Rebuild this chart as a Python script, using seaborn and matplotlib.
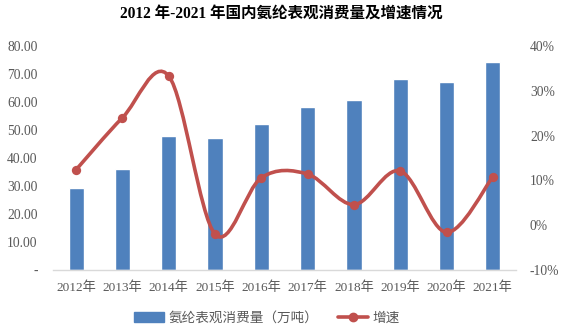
import matplotlib
matplotlib.use("Agg")
import matplotlib.pyplot as plt
import seaborn as sns
import numpy as np
import pandas as pd
from matplotlib.path import Path
from matplotlib.patches import PathPatch, Patch
from matplotlib.lines import Line2D

years = ["2012年", "2013年", "2014年", "2015年", "2016年", "2017年", "2018年", "2019年", "2020年", "2021年"]
consumption = [29.3, 36.1, 48.0, 47.0, 52.0, 58.1, 60.8, 68.3, 67.3, 74.4]
growth = [12.4, 24.0, 33.3, -2.0, 10.6, 11.4, 4.6, 12.1, -1.6, 10.8]
left_ticks = [0, 10, 20, 30, 40, 50, 60, 70, 80]
right_ticks = [-10, 0, 10, 20, 30, 40]

sns.set_theme(style="white")
plt.rcParams['font.family'] = ['Liberation Serif', 'Noto Sans CJK SC', 'DejaVu Sans']

BLUE = "#4F81BD"
RED = "#C0504D"
GRAY = "#595959"
TICKFONT = ['Liberation Serif', 'Noto Sans CJK SC']

fig = plt.figure(figsize=(5.62, 3.35), dpi=100)
ax = fig.add_axes([53/562, 1-270/335, 463/562, 224/335])

df = pd.DataFrame({"year": years, "value": consumption})
sns.barplot(data=df, x="year", y="value", color=BLUE, width=0.33, ax=ax, saturation=1)
ax.set_ylim(0, 80)
ax.set_xlim(-0.5, len(years) - 0.5)
ax.set_yticks(left_ticks)
ax.set_yticklabels(["-" if t == 0 else f"{t:.2f}" for t in left_ticks], color=GRAY, fontsize=9.8, family=TICKFONT)
ax.set_xticks(range(len(years)))
ax.set_xticklabels(years, color=GRAY, fontsize=9.5, family=TICKFONT)
ax.set_xlabel("")
ax.set_ylabel("")
ax.tick_params(axis='x', length=0, pad=8)
ax.tick_params(axis='y', length=0, pad=11)
for s in ["top", "left", "right"]:
    ax.spines[s].set_visible(False)
ax.spines["bottom"].set_color("#D9D9D9")
ax.spines["bottom"].set_linewidth(1.0)

ax2 = ax.twinx()
ax2.set_ylim(-10, 40)
ax2.set_yticks(right_ticks)
ax2.set_yticklabels([f"{t}%" for t in right_ticks], color=GRAY, fontsize=9.8, family=TICKFONT)
ax2.tick_params(axis='y', length=0, pad=10)
for s in ["top", "left", "right", "bottom"]:
    ax2.spines[s].set_visible(False)

# smoothed line (Excel-style Bezier) through the data points
xs = np.arange(len(growth), dtype=float)
ys = np.array(growth, dtype=float)
verts = [(xs[0], ys[0])]
codes = [Path.MOVETO]
n = len(xs)
for i in range(n - 1):
    p0 = np.array([xs[max(i - 1, 0)], ys[max(i - 1, 0)]])
    p1 = np.array([xs[i], ys[i]])
    p2 = np.array([xs[i + 1], ys[i + 1]])
    p3 = np.array([xs[min(i + 2, n - 1)], ys[min(i + 2, n - 1)]])
    c1 = p1 + (p2 - p0) / 6.0
    c2 = p2 - (p3 - p1) / 6.0
    verts += [tuple(c1), tuple(c2), tuple(p2)]
    codes += [Path.CURVE4, Path.CURVE4, Path.CURVE4]
path = Path(verts, codes)
ax2.add_patch(PathPatch(path, facecolor="none", edgecolor=RED, lw=2.6, zorder=3))
sns.scatterplot(x=xs, y=ys, color=RED, s=45, edgecolor=RED, linewidth=0, ax=ax2, zorder=4)

fig.text(0.5, 1 - 14/335, "2012 年-2021 年国内氨纶表观消费量及增速情况", ha="center", va="center",
         fontsize=11.2, fontweight="bold", color="black", family=['Liberation Serif', 'Noto Sans CJK SC'])

handles = [Patch(facecolor=BLUE, edgecolor=BLUE),
           Line2D([0], [0], color=RED, lw=2.6, marker="o", markersize=6)]
labels = ["氨纶表观消费量（万吨）", "增速"]
fig.legend(handles, labels, loc="center", bbox_to_anchor=(0.475, 1 - 318/335), ncol=2, frameon=False,
           prop={'family': ['Noto Sans CJK SC'], 'size': 9.8}, labelcolor=GRAY,
           handlelength=2.2, handletextpad=0.3, columnspacing=1.5)

fig.savefig("out.png", dpi=100)
